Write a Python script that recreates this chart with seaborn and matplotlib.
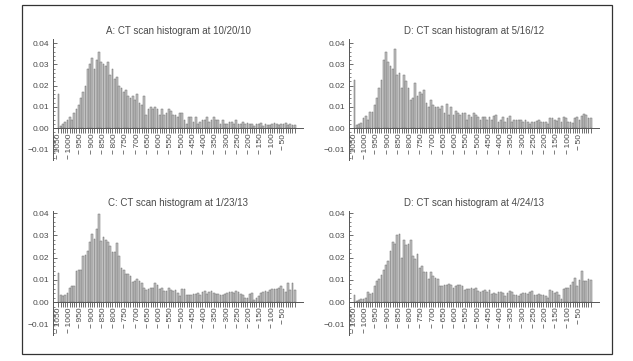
import numpy as np
import pandas as pd
import matplotlib
matplotlib.use("Agg")
import matplotlib.pyplot as plt
import seaborn as sns
from matplotlib.patches import Rectangle
from matplotlib.ticker import MultipleLocator, FixedLocator

# HU bins, 10 HU wide, from -1050 up to 0
bins = list(range(-1050, 1, 10))
tick_bins = list(range(-1050, -49, 50))

titles = ["A: CT scan histogram at 10/20/10",
          "D: CT scan histogram at 5/16/12",
          "C: CT scan histogram at 1/23/13",
          "D: CT scan histogram at 4/24/13"]

hist_a = [.016, .001, .002, .003, .004, .005, .004, .007, .009, .011,
          .014, .017, .020, .028, .030, .033, .028, .032, .036, .031,
          .030, .029, .031, .025, .028, .023, .024, .020, .019, .017,
          .018, .015, .014, .015, .013, .016, .012, .011, .015, .006,
          .009, .010, .009, .010, .009, .006, .009, .006, .007, .009,
          .008, .006, .006, .005, .007, .007, .004, .002, .005, .005,
          .003, .005, .002, .003, .004, .004, .005, .003, .004, .005,
          .004, .004, .002, .004, .002, .002, .003, .003, .002, .004,
          .002, .002, .003, .002, .0025, .002, .002, .001, .002, .002,
          .0025, .001, .002, .0015, .0015, .002, .0025, .002, .0015, .002,
          .002, .0025, .0015, .002, .0015, .0015]

hist_b = [.0226, .0015, .002, .0025, .0045, .0055, .004, .0075, .0075, .011,
          .014, .019, .0225, .032, .036, .031, .029, .028, .037, .025,
          .026, .019, .025, .022, .019, .013, .014, .021, .015, .017,
          .016, .018, .012, .010, .013, .011, .010, .010, .009, .0105,
          .007, .0115, .006, .010, .006, .008, .007, .006, .007, .007,
          .004, .006, .005, .007, .006, .005, .004, .005, .005, .004,
          .005, .004, .0055, .006, .003, .004, .005, .003, .0045, .0055,
          .003, .004, .004, .004, .004, .003, .004, .003, .002, .003,
          .003, .0035, .004, .003, .003, .003, .002, .0045, .0045, .004,
          .0035, .0045, .003, .005, .0045, .003, .003, .0025, .0045, .005,
          .004, .0055, .0065, .006, .0045, .0045]

hist_c = [.013, .003, .0025, .003, .004, .0065, .007, .007, .014, .0145,
          .0145, .0205, .021, .023, .027, .0305, .0285, .033, .0395, .0275,
          .029, .028, .027, .025, .0225, .0225, .0265, .0205, .0155, .0145,
          .0125, .0125, .0115, .009, .0095, .0105, .0095, .0085, .0065, .0055,
          .006, .0065, .0065, .0085, .0075, .006, .0065, .005, .005, .0065,
          .0055, .005, .0055, .004, .0025, .006, .006, .003, .003, .003,
          .0035, .0035, .004, .003, .0045, .005, .0035, .0045, .005, .004,
          .0035, .0035, .003, .003, .0035, .004, .0045, .0045, .004, .005,
          .0045, .0035, .003, .002, .002, .0035, .004, .001, .002, .0025,
          .004, .0045, .005, .0045, .0055, .006, .006, .006, .0065, .007,
          .006, .0045, .0085, .0055, .0085, .0055]

hist_d = [.0033, .0005, .001, .0015, .0015, .002, .0045, .0035, .004, .007,
          .0095, .0105, .012, .0145, .0165, .0185, .023, .027, .026, .030,
          .0305, .020, .028, .0255, .026, .028, .0205, .0195, .0215, .0155,
          .016, .0135, .0135, .0105, .0135, .0115, .011, .0105, .007, .007,
          .0075, .0075, .008, .0075, .0065, .007, .0075, .0075, .007, .0055,
          .006, .006, .0065, .006, .0065, .005, .0045, .005, .0055, .0045,
          .0055, .0035, .004, .0035, .0045, .0045, .004, .0025, .004, .005,
          .0045, .003, .003, .0025, .0035, .004, .004, .0035, .0045, .005,
          .003, .003, .0035, .003, .003, .0025, .002, .0055, .005, .004,
          .0045, .003, .0015, .006, .0065, .0065, .0075, .009, .011, .007,
          .010, .014, .0095, .0095, .0105, .010]

W, H = 633, 361
FONT = ["Liberation Sans", "DejaVu Sans"]
TEXT_COL = "#4a4a4a"
AXIS_COL = "#555555"


def px_rect(left, top, right, bottom):
    return [left / W, 1 - bottom / H, (right - left) / W, (bottom - top) / H]


def draw_panel(fig, rect, values, title, ylim):
    ax = fig.add_axes(rect)
    df = pd.DataFrame({"hu": bins, "freq": values})
    sns.barplot(data=df, x="hu", y="freq", ax=ax, color="#c2c2c2",
                saturation=1, edgecolor="#6e6e6e", linewidth=0.35, width=0.8)

    ax.set_xlim(-2.4, 108.7)
    ax.set_ylim(*ylim)
    ax.set_xlabel("")
    ax.set_ylabel("")

    for s in ["top", "right"]:
        ax.spines[s].set_visible(False)
    ax.spines["bottom"].set_position(("data", 0))
    for s in ["bottom", "left"]:
        ax.spines[s].set_color(AXIS_COL)
        ax.spines[s].set_linewidth(0.7)

    # x ticks: one per bar, label every 5 bars
    ax.set_xticks([bins.index(b) for b in tick_bins])
    ax.set_xticklabels(["\u2212\u2009" + str(-b) for b in tick_bins],
                       rotation=90, va="top", ha="center",
                       fontsize=6, color=TEXT_COL, family=FONT)
    ax.xaxis.set_minor_locator(FixedLocator(range(len(bins))))
    ax.tick_params(axis="x", which="both", bottom=True, direction="out",
                   length=3.5, width=0.6, color="#555555", pad=0.5)

    ax.set_yticks([-0.01, 0.0, 0.01, 0.02, 0.03, 0.04])
    ax.set_yticklabels(["\u22120.01", "0.00", "0.01", "0.02", "0.03", "0.04"],
                       fontsize=6, color=TEXT_COL, family=FONT)
    ax.yaxis.set_minor_locator(MultipleLocator(0.002))
    ax.tick_params(axis="y", which="major", left=True, direction="in",
                   length=3, width=0.6, color=AXIS_COL, pad=2.5)
    ax.tick_params(axis="y", which="minor", left=True, direction="in",
                   length=1.5, width=0.5, color=AXIS_COL)

    ax.set_facecolor("none")
    x_mid = (rect[0] + rect[2] / 2)
    y_top = rect[1] + rect[3] + 8 / H
    fig.text(x_mid, y_top, title, ha="center", va="center", fontsize=7,
             color=TEXT_COL, family=FONT)
    return ax


def main():
    sns.set_style("white")
    fig = plt.figure(figsize=(W / 100, H / 100), dpi=100)

    # outer frame
    fig.patches.append(Rectangle((22 / W, 1 - 354 / H), 590 / W, 349 / H,
                                 transform=fig.transFigure, fill=False,
                                 edgecolor="#333333", linewidth=0.9))

    draw_panel(fig, px_rect(53, 39, 303, 160), hist_a, titles[0], (-0.01506, 0.0419))
    draw_panel(fig, px_rect(349, 39, 599, 160), hist_b, titles[1], (-0.01506, 0.0419))
    draw_panel(fig, px_rect(53, 211, 303, 335), hist_c, titles[2], (-0.0148, 0.0409))
    draw_panel(fig, px_rect(349, 211, 599, 335), hist_d, titles[3], (-0.0148, 0.0409))

    fig.savefig("out.png", dpi=100)
    plt.close(fig)


if __name__ == "__main__":
    main()
